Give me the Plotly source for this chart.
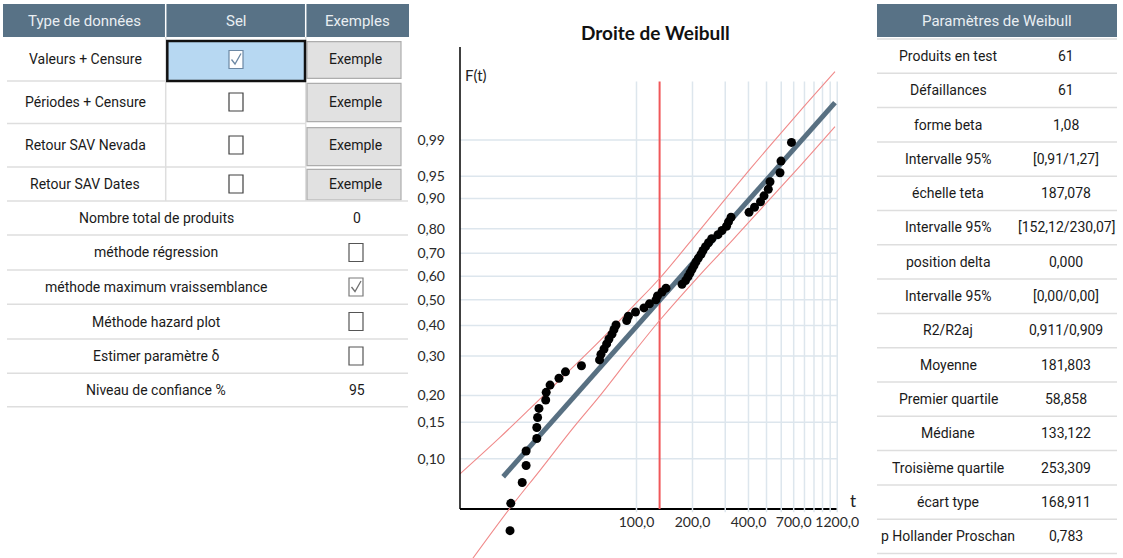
import numpy as np
import plotly.graph_objects as go

# ---------------- data ----------------
fail_times = [20.9, 21.1, 24.3, 25.5, 25.5, 29.1, 29.1, 29.4, 29.9, 32.5, 32.7, 34.3, 38.3, 41.5,
              50.6, 63.3, 64.4, 66.9, 69.1, 71.1, 73.8, 75.7, 77.6, 88.6, 90.4, 98.8, 109.7, 117.4,
              127.3, 129.7, 137.1, 144.1, 175.7, 183.5, 189.2, 194.0, 198.8, 203.8, 208.9, 215.0,
              222.3, 227.8, 235.0, 243.8, 253.7, 274.3, 288.3, 304.8, 312.4, 322.3, 402.7, 431.0,
              464.2, 484.7, 511.2, 522.1, 590.9, 598.3, 681.2]
fail_F = [0.0440, 0.0603, 0.0765, 0.0928, 0.1091, 0.1254, 0.1417, 0.1580, 0.1743, 0.1906, 0.2068,
          0.2231, 0.2394, 0.2557, 0.2720, 0.2883, 0.3046, 0.3208, 0.3371, 0.3534, 0.3697, 0.3860,
          0.4023, 0.4186, 0.4349, 0.4511, 0.4674, 0.4837, 0.5000, 0.5163, 0.5326, 0.5489, 0.5651,
          0.5814, 0.5977, 0.6140, 0.6303, 0.6466, 0.6629, 0.6792, 0.6954, 0.7117, 0.7280, 0.7443,
          0.7606, 0.7769, 0.7932, 0.8094, 0.8257, 0.8420, 0.8583, 0.8746, 0.8909, 0.9072, 0.9235,
          0.9397, 0.9560, 0.9723, 0.9886]
fit_t = [19.2, 1167.0]
fit_F = [0.0817, 0.99923]
upper_t = [11.25, 18.45, 26.76, 42.13, 63.66, 95.76, 133.75, 219.5, 330.3, 496.8, 756.8, 1167.2]
upper_F = [0.08436, 0.1270, 0.1739, 0.2522, 0.3479, 0.4734, 0.5925, 0.7959, 0.9226, 0.98295,
           0.99848, 0.999968]
lower_t = [12.73, 20.89, 30.29, 45.56, 63.66, 95.76, 133.75, 219.5, 330.3, 496.8, 756.8, 1167.2]
lower_F = [0.03046, 0.05707, 0.08788, 0.1407, 0.1998, 0.3075, 0.4206, 0.6064, 0.7571, 0.8861,
           0.9660, 0.99548]
median_t = 133.122

y_ticks = [0.10, 0.15, 0.20, 0.30, 0.40, 0.50, 0.60, 0.70, 0.80, 0.90, 0.95, 0.99]
y_tick_text = ["0,10", "0,15", "0,20", "0,30", "0,40", "0,50", "0,60", "0,70", "0,80", "0,90",
               "0,95", "0,99"]
x_ticks = [100, 200, 400, 700, 1200]
x_tick_text = ["100,0", "200,0", "400,0", "700,0", "1200,0"]
x_grid = [100, 200, 300, 400, 500, 600, 700, 800, 900, 1000, 1100, 1200]
grid_F_top = 0.9999
axis_F = 0.0565
t_min, t_max = 11.25, 1200

data_types = ["Valeurs + Censure", "Périodes + Censure", "Retour SAV Nevada", "Retour SAV Dates"]
data_sel = [True, False, False, False]
options_labels = ["Nombre total de produits", "méthode régression", "méthode maximum vraissemblance",
                  "Méthode hazard plot", "Estimer paramètre δ", "Niveau de confiance %"]
options_values = ["0", False, True, False, False, "95"]
param_labels = ["Produits en test", "Défaillances", "forme beta", "Intervalle 95%", "échelle teta",
                "Intervalle 95%", "position delta", "Intervalle 95%", "R2/R2aj", "Moyenne",
                "Premier quartile", "Médiane", "Troisième quartile", "écart type",
                "p Hollander Proschan"]
param_values = ["61", "61", "1,08", "[0,91/1,27]", "187,078", "[152,12/230,07]", "0,000",
                "[0,00/0,00]", "0,911/0,909", "181,803", "58,858", "133,122", "253,309",
                "168,911", "0,783"]

# ---------------- helpers ----------------
W, H = 1123, 558


def px(x):
    return x / W


def py(y):
    return 1 - y / H


def wb(F):
    F = np.asarray(F, dtype=float)
    return np.log(-np.log(1 - F))


TFONT = "Roboto, sans-serif"
PFONT = "Lato, Open Sans, sans-serif"
HEAD = "#587286"
SEP = "#dedede"
TXT = "#1a1a1a"

shapes = []
annotations = []


def rect(x0, y0, x1, y1, fill=None, line=None, lw=1):
    shapes.append(dict(type="rect", xref="paper", yref="paper", x0=px(x0), x1=px(x1),
                       y0=py(y1), y1=py(y0), fillcolor=fill or "rgba(0,0,0,0)",
                       line=dict(color=line or "rgba(0,0,0,0)", width=lw if line else 0),
                       layer="above"))


def hline(x0, x1, y, color=SEP, w=1.5):
    shapes.append(dict(type="line", xref="paper", yref="paper", x0=px(x0), x1=px(x1),
                       y0=py(y), y1=py(y), line=dict(color=color, width=w), layer="above"))


def vline(x, y0, y1, color=SEP, w=1.5):
    shapes.append(dict(type="line", xref="paper", yref="paper", x0=px(x), x1=px(x),
                       y0=py(y0), y1=py(y1), line=dict(color=color, width=w), layer="above"))


def text(x, y, s, size=14, color=TXT, anchor="center", family=TFONT):
    annotations.append(dict(x=px(x), y=py(y), xref="paper", yref="paper", text=s,
                            showarrow=False, xanchor=anchor, yanchor="middle",
                            font=dict(size=size, color=color, family=family)))


def checkbox(cx, cy, checked, border="#404040", mark="#707070"):
    rect(cx - 7, cy - 9, cx + 7, cy + 9, fill="white", line=border, lw=1.2)
    if checked:
        path = "M {} {} L {} {} L {} {}".format(px(cx - 4.5), py(cy), px(cx - 1), py(cy + 4.5),
                                              px(cx + 5), py(cy - 6))
        shapes.append(dict(type="path", xref="paper", yref="paper", path=path,
                           line=dict(color=mark, width=1.3), layer="above"))


# ---------------- left panel ----------------
rect(3, 4, 409, 37, fill=HEAD)
vline(165.7, 4, 37, color="white", w=1.5)
vline(305.7, 4, 37, color="white", w=1.5)
for cx, s in [(84, "Type de données"), (236, "Sel"), (357, "Exemples")]:
    text(cx, 20.5, s, size=15, color="#e9eef2")

row_c = [59.5, 102, 145, 184]
row_b = [(41.7, 78.3), (83.3, 121.7), (127.7, 165.7), (169.3, 200)]
for yy in [81, 123.5, 167]:
    hline(7, 305, yy)
vline(165.7, 37, 201)
vline(305.7, 37, 201)
for i, (lab, sel) in enumerate(zip(data_types, data_sel)):
    text(85, row_c[i], lab, size=14)
    b0, b1 = row_b[i]
    rect(307, b0, 401, b1, fill="#e1e1e1", line="#adadad", lw=1.2)
    text(355, row_c[i], "Exemple", size=14)
    if i == 0:
        rect(167.3, 41, 305, 81, fill="#b7d8f2", line="#111111", lw=2.5)
        checkbox(236, row_c[i], sel, border="#6c88a4", mark="#6c88a4")
    else:
        checkbox(236, row_c[i], sel)

opt_c = [218, 252.5, 287, 321.5, 356, 390]
for yy in [201, 235, 270, 304.3, 339, 373.3, 406.7]:
    hline(7, 408, yy)
for i, (lab, val) in enumerate(zip(options_labels, options_values)):
    text(156, opt_c[i], lab, size=14)
    if isinstance(val, bool):
        checkbox(356, opt_c[i], val, border="#555555" if not val else "#7a7a7a")
    else:
        text(357, opt_c[i], val, size=14)

# ---------------- right panel ----------------
rect(877, 4, 1117, 37, fill=HEAD)
text(997, 20.5, "Paramètres de Weibull", size=15, color="#e9eef2")
for k in range(16):
    hline(877, 1117, 39 + 34.3 * k)
for k, (lab, val) in enumerate(zip(param_labels, param_values)):
    yc = 56 + 34.3 * k
    text(948, yc, lab, size=14)
    text(1066, yc, val, size=14)

# ---------------- Weibull plot ----------------
fig = go.Figure()

w_axis = float(wb(axis_F))
w_top = float(wb(grid_F_top))

gx, gy = [], []
for g in x_grid:
    gx += [g, g, None]
    gy += [w_axis - 0.04, w_top, None]
fig.add_trace(go.Scatter(x=gx, y=gy, mode="lines", line=dict(color="#dde6ed", width=1.5),
                         hoverinfo="skip", showlegend=False))
hx, hy = [], []
for f in y_ticks:
    hx += [t_min, t_max, None]
    hy += [float(wb(f)), float(wb(f)), None]
fig.add_trace(go.Scatter(x=hx, y=hy, mode="lines", line=dict(color="#dde6ed", width=1.5),
                         hoverinfo="skip", showlegend=False))

fig.add_trace(go.Scatter(x=[median_t, median_t], y=[w_axis, w_top], mode="lines",
                         line=dict(color="#f0585a", width=2), showlegend=False))
fig.add_trace(go.Scatter(x=upper_t, y=wb(upper_F), mode="lines", line_shape="spline",
                         line=dict(color="#f08a8a", width=1.1), showlegend=False))
fig.add_trace(go.Scatter(x=lower_t, y=wb(lower_F), mode="lines", line_shape="spline",
                         line=dict(color="#f08a8a", width=1.1), showlegend=False))
fig.add_trace(go.Scatter(x=fit_t, y=wb(fit_F), mode="lines",
                         line=dict(color="#587082", width=5), showlegend=False))
fig.add_trace(go.Scatter(x=fail_times, y=wb(fail_F), mode="markers",
                         marker=dict(color="black", size=9), showlegend=False))

# y axis line
shapes.append(dict(type="line", xref="paper", yref="paper", x0=px(460), x1=px(460),
                   y0=py(47), y1=py(509), line=dict(color="black", width=1.5), layer="above"))

text(655, 33, "<b>Droite de Weibull</b>", size=19, color="#111111", family=PFONT)
text(463, 75, "F(t)", size=15, color="#222222", anchor="left", family=PFONT)
text(853, 500, "t", size=17, color="#222222", family=PFONT)

fig.update_layout(
    width=W, height=H,
    margin=dict(l=0, r=0, t=0, b=0, autoexpand=False),
    paper_bgcolor="white", plot_bgcolor="white",
    shapes=shapes, annotations=annotations,
    xaxis=dict(type="log", domain=[px(460), px(838)],
               range=[np.log10(t_min), 2 + (838 - 636.5) / 186],
               showgrid=False, zeroline=False, anchor="free", position=py(509),
               showline=True, linecolor="black", linewidth=1.5, layer="below traces",
               automargin=False,
               tickmode="array", tickvals=x_ticks, ticktext=x_tick_text, ticks="",
               tickfont=dict(size=14, color="#2a2a2a", family=PFONT)),
    yaxis=dict(domain=[0, py(40)], range=[1.5272 - (558 - 140) / 84.4, 1.5272 + (140 - 40) / 84.4],
               showgrid=False, zeroline=False, showline=False, automargin=False,
               tickmode="array", tickvals=wb(y_ticks).tolist(), ticktext=y_tick_text, ticks="",
               ticklabelstandoff=14,
               tickfont=dict(size=14, color="#2a2a2a", family=PFONT)),
)

fig.write_html("out.html", config={"displayModeBar": False},
               post_script="document.body.style.margin='0';")
